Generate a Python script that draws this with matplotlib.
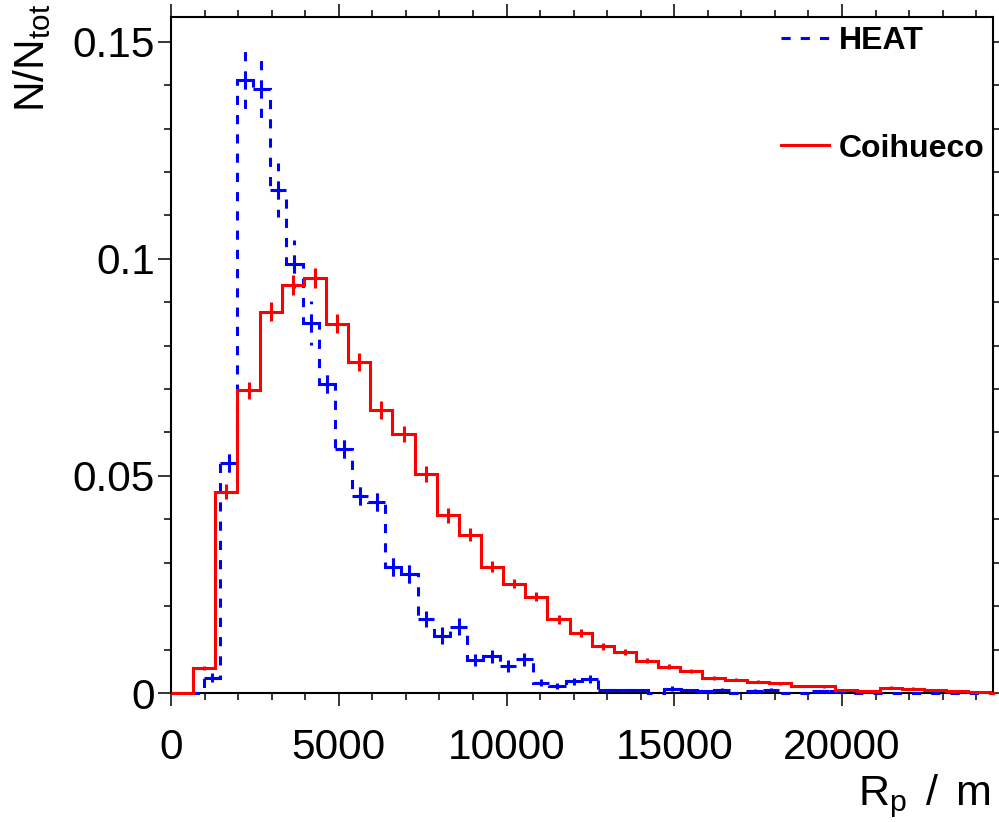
import numpy as np
import matplotlib
matplotlib.use("Agg")
import matplotlib.pyplot as plt
from matplotlib.lines import Line2D

plt.rcParams['font.family'] = ['Liberation Sans', 'DejaVu Sans']
plt.rcParams['mathtext.fontset'] = 'custom'
plt.rcParams['mathtext.rm'] = 'Liberation Sans'
plt.rcParams['mathtext.it'] = 'Liberation Sans'
plt.rcParams['mathtext.default'] = 'regular'

# Coihueco: 37 bins of 660 m starting at 0
coi_width = 660
coi_vals = [0, 0.0058, 0.0464, 0.0697, 0.0878, 0.0939, 0.0956, 0.0851, 0.0763, 0.0652,
            0.0597, 0.0505, 0.0409, 0.0365, 0.0291, 0.0252, 0.0222, 0.0170, 0.0138, 0.0108,
            0.0095, 0.0074, 0.0061, 0.0051, 0.0035, 0.0031, 0.0026, 0.0022, 0.0016, 0.0015,
            0.0008, 0.0005, 0.0012, 0.0010, 0.0007, 0.0005, 0.0002]
coi_err = [0, 0.0004, 0.0017, 0.0020, 0.0022, 0.0023, 0.0024, 0.0022, 0.0021, 0.0020,
           0.0019, 0.0018, 0.0017, 0.0015, 0.0012, 0.0011, 0.0011, 0.0010, 0.0009, 0.0008,
           0.0007, 0.0006, 0.0006, 0.0005, 0.0004, 0.0004, 0.0004, 0.0003, 0.0003, 0.0003,
           0.0002, 0.0002, 0.0003, 0.0003, 0.0002, 0.0002, 0.0001]

# HEAT: 50 bins of 490 m starting at 0
heat_width = 490
heat_vals = [0, 0, 0.0035, 0.0530, 0.1412, 0.1392, 0.1159, 0.0988, 0.0852, 0.0711,
             0.0562, 0.0453, 0.0440, 0.0291, 0.0275, 0.0170, 0.0132, 0.0153, 0.0076, 0.0085,
             0.0062, 0.0078, 0.0024, 0.0016, 0.0027, 0.0033, 0.0006, 0.0006, 0.0006, 0,
             0.0010, 0.0006, 0.0004, 0.0008, 0, 0.0005, 0.0008, 0, 0, 0.0005,
             0.0004, 0, 0, 0, 0, 0, 0, 0, 0, 0]
heat_err = [0, 0, 0.0010, 0.0023, 0.0067, 0.0067, 0.0062, 0.0055, 0.0050, 0.0035,
            0.0030, 0.0029, 0.0030, 0.0025, 0.0025, 0.0018, 0.0019, 0.0019, 0.0014, 0.0015,
            0.0013, 0.0015, 0.0008, 0.0007, 0.0008, 0.0009, 0.0004, 0.0004, 0.0004, 0,
            0.0005, 0.0004, 0.0003, 0.0004, 0, 0.0004, 0.0004, 0, 0, 0.0003,
            0.0003, 0, 0, 0, 0, 0, 0, 0, 0, 0]

x_ticks = [0, 5000, 10000, 15000, 20000]
y_ticks = [0, 0.05, 0.1, 0.15]
y_ticklabels = ["0", "0.05", "0.1", "0.15"]

blue = "#0000ff"
red = "#ff0000"
lw = 2.2
dash = (0, (3.0, 3.3))

fig = plt.figure(figsize=(9.99, 8.22), dpi=100)
ax = fig.add_axes([171 / 999, 1 - 693 / 822, 822 / 999, 676 / 822])

coi_vals = np.array(coi_vals)
coi_err = np.array(coi_err)
heat_vals = np.array(heat_vals)
heat_err = np.array(heat_err)
coi_edges = np.arange(len(coi_vals) + 1) * coi_width
heat_edges = np.arange(len(heat_vals) + 1) * heat_width

# HEAT (dashed)
ax.stairs(heat_vals, heat_edges, color=blue, lw=lw, linestyle=dash, baseline=0,
          zorder=3, clip_on=False)
m = heat_vals > 0
hc = (heat_edges[:-1] + heat_edges[1:])[m] / 2
ax.hlines(heat_vals[m], hc - heat_width / 2, hc + heat_width / 2, color=blue, lw=lw, zorder=3)
ax.vlines(hc, heat_vals[m], heat_vals[m] + heat_err[m], color=blue, lw=lw, linestyles=[dash], zorder=3)
ax.vlines(hc, heat_vals[m], heat_vals[m] - heat_err[m], color=blue, lw=lw, linestyles=[dash], zorder=3)

# Coihueco (solid)
ax.stairs(coi_vals, coi_edges, color=red, lw=lw, baseline=0, zorder=4, clip_on=False)
m = coi_vals > 0
cc = (coi_edges[:-1] + coi_edges[1:])[m] / 2
ax.vlines(cc, coi_vals[m] - coi_err[m], coi_vals[m] + coi_err[m], color=red, lw=lw, zorder=4)
ax.plot([coi_edges[-1], 24500], [0, 0], color=red, lw=lw, zorder=4, clip_on=False)

ax.set_xlim(0, 24500)
ax.set_ylim(0, 0.1557)

ax.set_xticks(x_ticks)
ax.set_xticks(np.arange(0, 24501, 1000), minor=True)
ax.set_yticks(y_ticks)
ax.set_yticklabels(y_ticklabels)
ax.set_yticks(np.arange(0, 0.156, 0.01), minor=True)
ax.tick_params(which='both', direction='out', top=True, right=True, width=1.1, color='black')
ax.tick_params(which='major', length=9.5, labelsize=30.5)
ax.tick_params(which='minor', length=4.7)
ax.tick_params(axis='y', pad=2)
ax.tick_params(axis='x', pad=16)
for s in ax.spines.values():
    s.set_linewidth(1.5)

fig.text(32 / 999, 1 - 4 / 822, r'N/N$_{tot}$', rotation=90, ha='center', va='top', fontsize=30.5)
fig.text(990 / 999, 1 - 805 / 822, r'R$_{p}\,$ / $\,$m', ha='right', va='baseline', fontsize=31)

handles = [Line2D([], [], color=blue, lw=lw, linestyle=dash),
           Line2D([], [], color=red, lw=lw)]
ax.legend(handles, ["HEAT", "Coihueco"], loc='upper left', bbox_to_anchor=(0.723, 1.010),
          frameon=False, borderpad=0, handlelength=1.5, handletextpad=0.3,
          labelspacing=2.42, prop={'weight': 'bold', 'size': 23})

fig.savefig("out.png", dpi=100)
